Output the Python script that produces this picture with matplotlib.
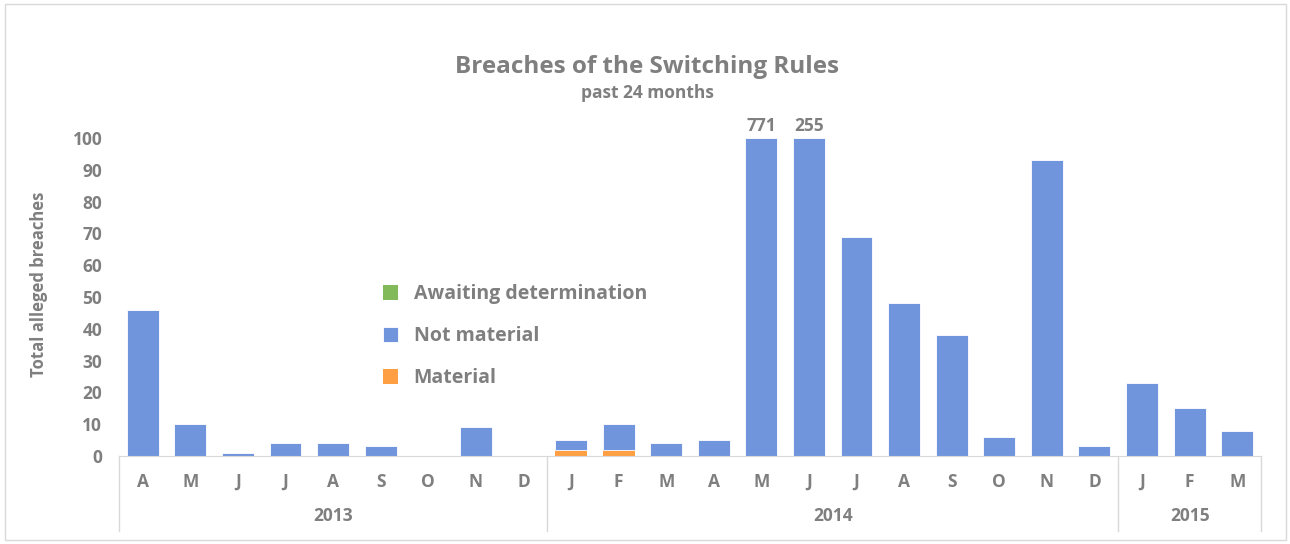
import matplotlib
matplotlib.use("Agg")
import numpy as np
from matplotlib import pyplot as plt
from matplotlib.patches import Rectangle
import matplotlib.transforms as mtransforms

months = ["A", "M", "J", "J", "A", "S", "O", "N", "D",
          "J", "F", "M", "A", "M", "J", "J", "A", "S", "O", "N", "D",
          "J", "F", "M"]
years = ["2013", "2014", "2015"]
year_counts = [9, 12, 3]

material = [0, 0, 0, 0, 0, 0, 0, 0, 0,
            2, 2, 0, 0, 0, 0, 0, 0, 0, 0, 0, 0,
            0, 0, 0]
not_material = [46, 10, 1, 4, 4, 3, 0, 9, 0,
                3, 8, 4, 5, 771, 255, 69, 48, 38, 6, 93, 3,
                23, 15, 8]
awaiting = [0] * 24

GRAY = "#7f7f7f"
BLUE = "#7095dc"
ORANGE = "#ff9f43"
GREEN = "#82ba5a"
FONT = "Open Sans"
plt.rcParams["font.family"] = [FONT, "DejaVu Sans"]

fig = plt.figure(figsize=(12.9, 5.44), dpi=100)
fig.patches.append(Rectangle((0.004, 0.008), 0.993, 0.985, transform=fig.transFigure,
                             fill=False, edgecolor="#d9d9d9", linewidth=1))
ax = fig.add_axes([0.0922, 0.1618, 0.8853, 0.5845])

ymax = 100
x = np.arange(len(months))
mat = np.array(material)
notm = np.array(not_material)
total = mat + notm
shown_notm = np.minimum(total, ymax) - mat
w = 0.67
ax.bar(x, mat, w, color=ORANGE, label="Material")
ax.bar(x, shown_notm, w, bottom=mat, color=BLUE, edgecolor="white", linewidth=0.6,
       label="Not material")
ax.bar(x, awaiting, w, bottom=mat + shown_notm, color=GREEN, label="Awaiting determination")

for i, t in enumerate(total):
    if t > ymax:
        ax.text(x[i], ymax + 1, str(t), ha="center", va="bottom", color=GRAY,
                fontsize=12.5, fontweight="bold", clip_on=False)

ax.set_xlim(-0.5, len(months) - 0.5)
ax.set_ylim(0, ymax)
ax.set_yticks(range(0, 101, 10))
ax.tick_params(axis="y", length=0, labelsize=12.5, labelcolor=GRAY, pad=12)
for lab in ax.get_yticklabels():
    lab.set_fontweight("bold")
ax.set_xticks(x)
ax.set_xticklabels(months, fontsize=12.5, fontweight="bold", color=GRAY)
ax.tick_params(axis="x", length=0, pad=12)
for s in ["top", "right", "left"]:
    ax.spines[s].set_visible(False)
ax.spines["bottom"].set_color("#d9d9d9")

ax.set_ylabel("Total alleged breaches", fontsize=12, fontweight="bold", color=GRAY)
ax.yaxis.set_label_coords(-0.062, 0.54)

# year groups under the month labels
trans = mtransforms.blended_transform_factory(ax.transData, ax.transAxes)
start = -0.5
edges = [start]
for yr, n in zip(years, year_counts):
    ax.text(start + n / 2, -0.19, yr, transform=trans, ha="center", va="center",
            fontsize=12.5, fontweight="bold", color=GRAY)
    start += n
    edges.append(start)
for e in edges:
    ax.plot([e, e], [0, -0.235], transform=trans, color="#d9d9d9", linewidth=1, clip_on=False)

fig.text(0.5016, 0.876, "Breaches of the Switching Rules", ha="center", va="center",
         fontsize=17.5, fontweight="bold", color=GRAY)
fig.text(0.5016, 0.829, "past 24 months", ha="center", va="center",
         fontsize=12.5, fontweight="bold", color=GRAY)

handles, labels = ax.get_legend_handles_labels()
order = [2, 1, 0]
ax.legend([handles[i] for i in order], [labels[i] for i in order],
          loc="upper left", bbox_to_anchor=(0.2155, 0.595), frameon=False,
          labelcolor=GRAY, prop={"weight": "bold", "size": 14},
          handlelength=0.8, handleheight=0.8, labelspacing=1.12, handletextpad=0.8)

fig.savefig("out.png", dpi=100)
